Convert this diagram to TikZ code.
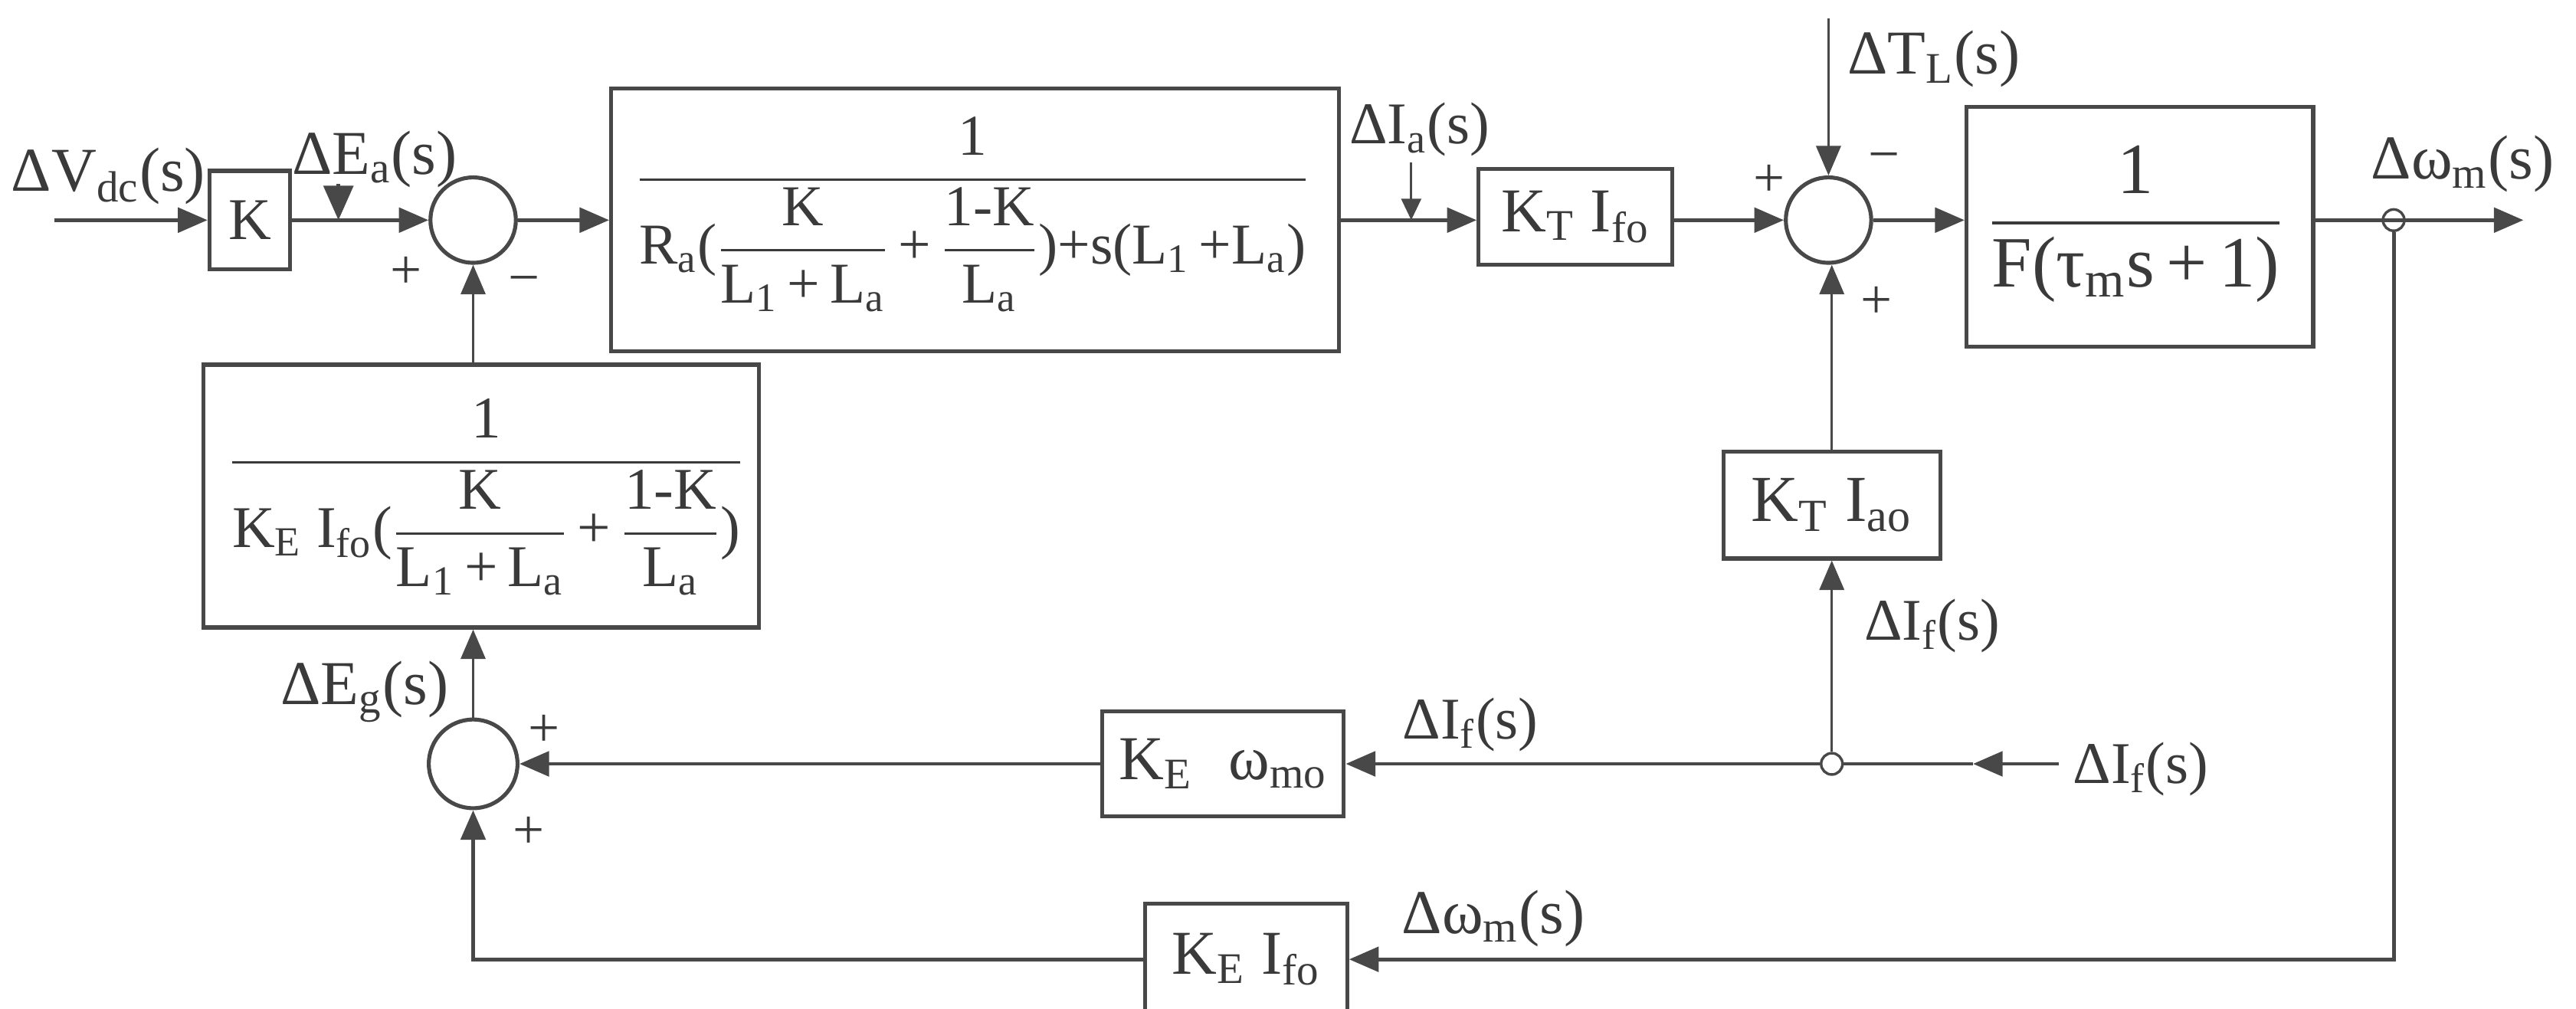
\documentclass[tikz,border=0pt]{standalone}
\usepackage{amsmath}
\usepackage{fontspec}
\setmainfont{Liberation Serif}
\usetikzlibrary{arrows.meta}
\definecolor{ink}{RGB}{72,72,72}
\definecolor{txt}{RGB}{58,58,58}
\newcommand{\sbx}[1]{\textsubscript{#1}}
\tikzset{
  >={Triangle[length=9pt,width=7.5pt]},
  blk/.style={draw=ink, line width=1.2pt, rectangle, inner sep=0pt, text=txt},
  sumnode/.style={draw=ink, circle, line width=1.2pt, minimum size=26pt, inner sep=0pt},
  pick/.style={draw=ink, circle, line width=0.8pt, minimum size=6.5pt, inner sep=0pt},
  conn/.style={draw=ink, line width=1.15pt},
  thinconn/.style={draw=ink, line width=0.75pt},
  lbl/.style={text=txt, inner sep=0pt, font=\fontsize{19}{22}\selectfont},
  lbls/.style={text=txt, inner sep=0pt, font=\fontsize{18}{21}\selectfont},
  sgn/.style={text=txt, inner sep=0pt, font=\fontsize{17}{20}\selectfont},
  ftxt/.style={text=txt, inner sep=0pt, anchor=base},
  boxtxt/.style={font=\fontsize{19}{22}\selectfont}
}
\begin{document}
\begin{tikzpicture}[x=0.5pt, y={(0pt,-0.5pt)}]
\useasboundingbox (0,0) rectangle (1568,614);

% ---------- top row ----------
\coordinate (vin) at (33,134);
\node[blk, minimum width=24.5pt, minimum height=30pt, font=\fontsize{18}{20}\selectfont] (kb) at (152,134) {K};
\node[sumnode] (s1) at (288,134) {};
\node[blk, minimum width=221.5pt, minimum height=80pt] (g1) at (593.5,134) {};
\node[ftxt, font=\fontsize{17.6}{20}\selectfont] (g1f) at (592,118)
  {$\displaystyle\frac{\text{1}}{\text{R\sbx{a}(}\dfrac{\text{K}}{\text{L\sbx{1}\,+\,L\sbx{a}}}\text{\,+\,}\dfrac{\text{1-K}}{\text{L\sbx{a}}}\text{)+s(L\sbx{1}\,+L\sbx{a})}}$};
\node[blk, boxtxt, minimum width=59pt, minimum height=29pt] (kt) at (959,132) {K\sbx{T} I\sbx{fo}};
\node[sumnode] (s2) at (1113,134) {};
\node[blk, minimum width=105.5pt, minimum height=73pt] (f) at (1302.5,138) {};
\node[ftxt, font=\fontsize{22}{25}\selectfont] (ff) at (1300,146)
  {$\displaystyle\frac{\text{1}}{\text{F(τ\sbx{m}s\,+\,1)}}$};
\node[pick] (p1) at (1457,134) {};
\coordinate (out) at (1536,134);
\coordinate (tl) at (1113,11);

% ---------- middle / bottom ----------
\node[blk, minimum width=169pt, minimum height=80pt] (g2) at (293,302) {};
\node[ftxt, font=\fontsize{18}{21}\selectfont] (g2f) at (296,290)
  {$\displaystyle\frac{\text{1}}{\text{K\sbx{E} I\sbx{fo}(}\dfrac{\text{K}}{\text{L\sbx{1}\,+\,L\sbx{a}}}\text{\,+\,}\dfrac{\text{1-K}}{\text{L\sbx{a}}}\text{)}}$};
\node[blk, boxtxt, font=\fontsize{20}{23}\selectfont, minimum width=66pt, minimum height=32.5pt] (ka) at (1115,307.5) {K\sbx{T} I\sbx{ao}};
\node[sumnode, minimum size=27pt] (s3) at (288,465) {};
\node[blk, boxtxt, minimum width=73.5pt, minimum height=32pt] (kw) at (744.5,465) {K\sbx{E}\,\, ω\sbx{mo}};
\node[pick] (p2) at (1115,465) {};
\coordinate (ifin) at (1253,465);
\coordinate (iftip) at (1201,465);
\node[blk, boxtxt, minimum width=61.5pt, minimum height=34pt] (ki) at (758.5,584) {K\sbx{E} I\sbx{fo}};

% ---------- connectors ----------
\draw[conn,->] (vin) -- (kb.west);
\draw[conn,->] (kb.east) -- (s1.west);
\draw[conn,->] (s1.east) -- (g1.west);
\draw[conn,->] (g1.east) -- (g1.east -| kt.west);
\draw[conn,->] (kt.east |- s2) -- (s2.west);
\draw[conn,->] (s2.east) -- (s2.east -| f.west);
\draw[conn,->] (f.east |- p1) -- (out);
\draw[thinconn,->] (tl) -- (s2.north);

\draw[conn,->] (p1.south) -- (p1 |- ki) -- (ki.east);
\draw[conn,->] (ki.west) -- (ki -| s3) -- (s3.south);
\draw[conn,->] (kw.west) -- (s3.east);
\draw[conn,->] (ifin) -- (iftip);
\draw[conn] (iftip) -- (p2.east);
\draw[conn,->] (p2.west) -- (kw.east);
\draw[thinconn,->] (p2.north) -- (ka.south);
\draw[thinconn,->] (ka.north) -- (ka.north |- s2.south);
\draw[thinconn,->] (s3.north) -- (s3 |- g2.south);
\draw[thinconn,->] (s1 |- g2.north) -- (s1.south);

% small signal arrows
\coordinate (ea) at (206,112);
\coordinate (eaend) at (206,134);
\draw[conn,-{Triangle[length=10.5pt,width=9pt]}] (ea) -- (eaend);
\coordinate (ia) at (859,99);
\coordinate (iaend) at (859,134);
\draw[thinconn,-{Triangle[length=6.5pt,width=6pt]}] (ia) -- (iaend);

% ---------- labels ----------
\node[lbl] (lvdc) at (66,107) {ΔV\sbx{dc}(s)};
\node[lbl] (lea) at (228,97) {ΔE\sbx{a}(s)};
\node[lbls] (lia) at (864,79) {ΔI\sbx{a}(s)};
\node[lbl] (ltl) at (1177,36) {ΔT\sbx{L}(s)};
\node[lbl] (lwm) at (1499,100) {Δω\sbx{m}(s)};
\node[lbl] (leg) at (222,421) {ΔE\sbx{g}(s)};
\node[lbls] (lif1) at (895,441) {ΔI\sbx{f}(s)};
\node[lbls] (lif2) at (1176,381) {ΔI\sbx{f}(s)};
\node[lbls] (lif3) at (1303,468) {ΔI\sbx{f}(s)};
\node[lbl] (lwm2) at (909,559) {Δω\sbx{m}(s)};

% signs
\node[sgn] (p1a) at (247,166) {+};
\node[sgn] (m1a) at (319,174) {−};
\node[sgn] (p2a) at (1077,110) {+};
\node[sgn] (m2a) at (1147,99) {−};
\node[sgn] (p2b) at (1142,184) {+};
\node[sgn] (p3a) at (331,445) {+};
\node[sgn] (p3b) at (322,507) {+};
\end{tikzpicture}
\end{document}
